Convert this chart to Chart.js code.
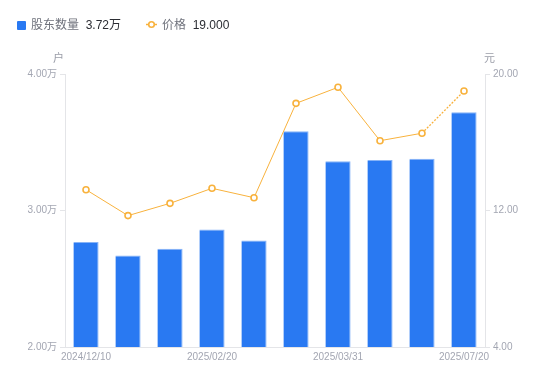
<!DOCTYPE html>
<html>
<head>
<meta charset="utf-8">
<script src="https://cdn.jsdelivr.net/npm/chart.js@4/dist/chart.umd.min.js"></script>
<style>
  html, body { margin: 0; padding: 0; background: #fff; }
  #wrap { position: relative; width: 550px; height: 381px; font-family: "Liberation Sans", "Noto Sans CJK SC", sans-serif; }
  canvas { position: absolute; left: 0; top: 0; }
  .lg { position: absolute; top: 17px; font-size: 12px; line-height: 16px; white-space: nowrap; }
  .nm { color: #6f727c; }
  .vl { color: #2b2d33; }
  .unit { position: absolute; top: 49px; font-size: 11px; color: #9a9da8; }
</style>
</head>
<body>
<div id="wrap">
  <canvas id="c" width="550" height="381"></canvas>
  <div class="lg" style="left:17px;"><span style="display:inline-block;width:9px;height:9px;background:#2979f2;border-radius:1px;vertical-align:-1px;margin-right:5px;"></span><span class="nm">股东数量</span>&nbsp;&nbsp;<span class="vl">3.72万</span></div>
  <div class="lg" style="left:146px;"><svg width="11" height="9" style="vertical-align:0px;margin-right:5px;"><line x1="0" y1="4.5" x2="11" y2="4.5" stroke="#f8b23d" stroke-width="1.5"/><circle cx="5.5" cy="4.5" r="2.8" fill="#fff" stroke="#f8b23d" stroke-width="1.6"/></svg><span class="nm">价格</span>&nbsp;&nbsp;<span class="vl">19.000</span></div>
  <div class="unit" style="left:53px;">户</div>
  <div class="unit" style="left:484px;">元</div>
</div>
<script>
const dates = ["2024/12/10", "2024/12/31", "2025/01/10", "2025/02/20", "2025/02/28", "2025/03/10", "2025/03/31", "2025/04/30", "2025/06/30", "2025/07/20"];
const shownLabelIdx = [0, 3, 6, 9];
const holders = [2.77, 2.67, 2.72, 2.86, 2.78, 3.58, 3.36, 3.37, 3.38, 3.72];
const prices = [13.22, 11.70, 12.42, 13.30, 12.75, 18.28, 19.22, 16.09, 16.53, 19.00];
const leftTicks = [2, 3, 4];
const rightTicks = [4, 12, 20];

const tickColor = '#a3a6b2';
const axisColor = '#e4e5e8';
const tickFont = { family: '"Liberation Sans", "Noto Sans CJK SC", sans-serif', size: 10 };

new Chart(document.getElementById('c'), {
  data: {
    labels: dates,
    datasets: [
      {
        type: 'line',
        label: '价格',
        data: prices,
        yAxisID: 'y1',
        borderColor: '#f8b23d',
        borderWidth: 1,
        pointRadius: 3,
        pointBorderWidth: 1.6,
        pointBackgroundColor: '#ffffff',
        pointBorderColor: '#f8b23d',
        tension: 0,
        order: 0,
        segment: {
          borderDash: ctx => ctx.p1DataIndex === prices.length - 1 ? [2, 1.5] : undefined,
          borderWidth: ctx => ctx.p1DataIndex === prices.length - 1 ? 1.3 : undefined
        }
      },
      {
        type: 'bar',
        label: '股东数量',
        data: holders,
        yAxisID: 'y',
        backgroundColor: '#2979f2',
        borderColor: '#86b3f7',
        borderWidth: { top: 1, right: 1, left: 0, bottom: 0 },
        borderSkipped: 'bottom',
        categoryPercentage: 1,
        barPercentage: 0.6,
        order: 1
      }
    ]
  },
  options: {
    responsive: false,
    animation: false,
    layout: { padding: { top: 74, left: 0, right: 0, bottom: 0 } },
    plugins: { legend: { display: false }, tooltip: { enabled: false } },
    scales: {
      x: {
        grid: { display: false, drawTicks: false },
        border: { display: true, color: axisColor },
        ticks: {
          autoSkip: false, maxRotation: 0, minRotation: 0, padding: 4,
          color: tickColor, font: tickFont,
          callback: function(v, i) { return shownLabelIdx.includes(i) ? dates[i] : ''; }
        },
        afterFit: s => { s.height = 34; }
      },
      y: {
        position: 'left',
        min: leftTicks[0], max: leftTicks[leftTicks.length - 1],
        afterBuildTicks: s => { s.ticks = leftTicks.map(v => ({ value: v })); },
        grid: { drawOnChartArea: false, drawTicks: true, tickLength: 5, color: axisColor },
        border: { display: true, color: axisColor },
        ticks: { color: tickColor, font: tickFont, padding: 3, callback: v => v.toFixed(2) + '万' },
        afterFit: s => { s.width = 65; }
      },
      y1: {
        position: 'right',
        min: rightTicks[0], max: rightTicks[rightTicks.length - 1],
        afterBuildTicks: s => { s.ticks = rightTicks.map(v => ({ value: v })); },
        grid: { drawOnChartArea: false, drawTicks: true, tickLength: 5, color: axisColor },
        border: { display: true, color: axisColor },
        ticks: { color: tickColor, font: tickFont, padding: 3, callback: v => v.toFixed(2) },
        afterFit: s => { s.width = 65; }
      }
    }
  }
});
</script>
</body>
</html>
